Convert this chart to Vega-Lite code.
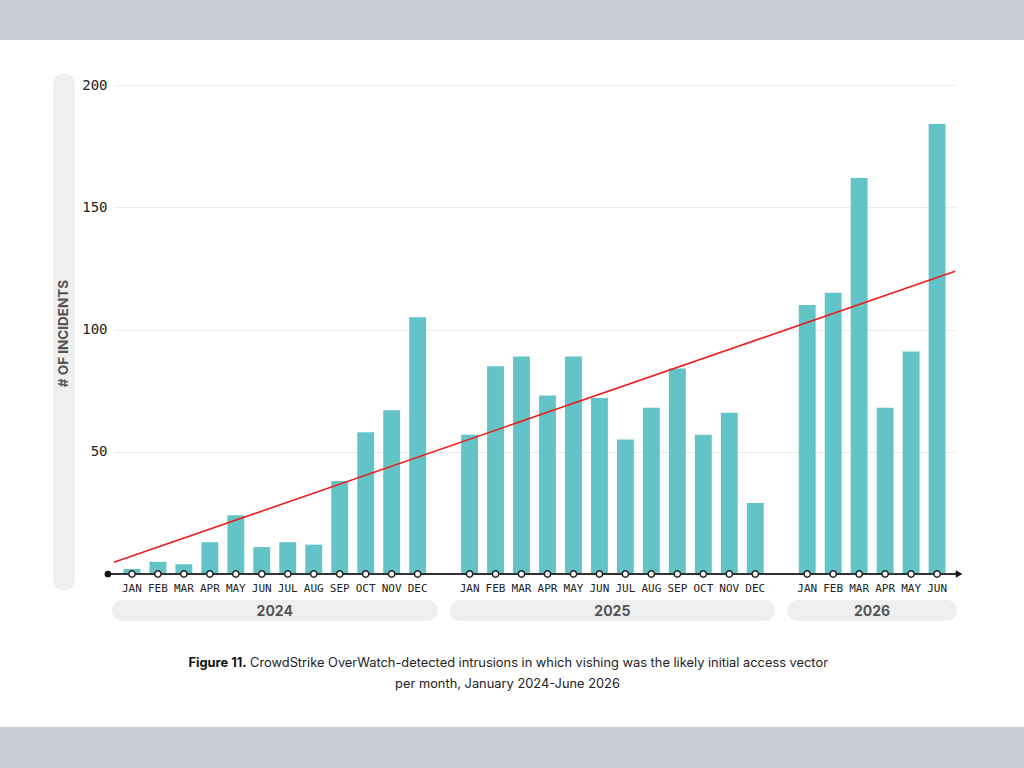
{
  "$schema": "https://vega.github.io/schema/vega-lite/v6.json",
  "width": 1024,
  "height": 687,
  "autosize": {"type": "none"},
  "padding": {"top": 40, "bottom": 41, "left": 0, "right": 0},
  "background": "#c8cdd5",
  "config": {
    "view": {"fill": "white", "stroke": null},
    "text": {"font": "Inter"}
  },
  "datasets": {
    "monthly": [
      {"period": "2024-JAN", "year": "2024", "month": "JAN", "count": 2},
      {"period": "2024-FEB", "year": "2024", "month": "FEB", "count": 5},
      {"period": "2024-MAR", "year": "2024", "month": "MAR", "count": 4},
      {"period": "2024-APR", "year": "2024", "month": "APR", "count": 13},
      {"period": "2024-MAY", "year": "2024", "month": "MAY", "count": 24},
      {"period": "2024-JUN", "year": "2024", "month": "JUN", "count": 11},
      {"period": "2024-JUL", "year": "2024", "month": "JUL", "count": 13},
      {"period": "2024-AUG", "year": "2024", "month": "AUG", "count": 12},
      {"period": "2024-SEP", "year": "2024", "month": "SEP", "count": 38},
      {"period": "2024-OCT", "year": "2024", "month": "OCT", "count": 58},
      {"period": "2024-NOV", "year": "2024", "month": "NOV", "count": 67},
      {"period": "2024-DEC", "year": "2024", "month": "DEC", "count": 105},
      {"period": "2025-JAN", "year": "2025", "month": "JAN", "count": 57},
      {"period": "2025-FEB", "year": "2025", "month": "FEB", "count": 85},
      {"period": "2025-MAR", "year": "2025", "month": "MAR", "count": 89},
      {"period": "2025-APR", "year": "2025", "month": "APR", "count": 73},
      {"period": "2025-MAY", "year": "2025", "month": "MAY", "count": 89},
      {"period": "2025-JUN", "year": "2025", "month": "JUN", "count": 72},
      {"period": "2025-JUL", "year": "2025", "month": "JUL", "count": 55},
      {"period": "2025-AUG", "year": "2025", "month": "AUG", "count": 68},
      {"period": "2025-SEP", "year": "2025", "month": "SEP", "count": 84},
      {"period": "2025-OCT", "year": "2025", "month": "OCT", "count": 57},
      {"period": "2025-NOV", "year": "2025", "month": "NOV", "count": 66},
      {"period": "2025-DEC", "year": "2025", "month": "DEC", "count": 29},
      {"period": "2026-JAN", "year": "2026", "month": "JAN", "count": 110},
      {"period": "2026-FEB", "year": "2026", "month": "FEB", "count": 115},
      {"period": "2026-MAR", "year": "2026", "month": "MAR", "count": 162},
      {"period": "2026-APR", "year": "2026", "month": "APR", "count": 68},
      {"period": "2026-MAY", "year": "2026", "month": "MAY", "count": 91},
      {"period": "2026-JUN", "year": "2026", "month": "JUN", "count": 184}
    ],
    "years": [
      {"year": "2024", "first": "2024-JAN", "last": "2024-DEC", "middle": "2024-JUN"},
      {"year": "2025", "first": "2025-JAN", "last": "2025-DEC", "middle": "2025-JUN"},
      {"year": "2026", "first": "2026-JAN", "last": "2026-JUN", "middle": "2026-MAR"}
    ],
    "trend": [
      {"from": "2024-JAN", "to": "2026-JUN", "start": 4.8, "end": 123.8}
    ]
  },
  "layer": [
    {
      "data": {"name": "years"},
      "mark": {"type": "rect", "fill": "#efefef", "cornerRadius": 10.5, "xOffset": -20, "x2Offset": 20, "yOffset": 26, "y2Offset": 47},
      "encoding": {
        "x": {"field": "first", "type": "ordinal", "bandPosition": 0.5},
        "x2": {"field": "last", "bandPosition": 0.5},
        "y": {"datum": 0, "type": "quantitative"},
        "y2": {"datum": 0}
      }
    },
    {
      "data": {"name": "years"},
      "mark": {"type": "text", "font": "Inter", "fontWeight": "bold", "fontSize": 14, "color": "#555555", "baseline": "middle", "align": "center", "xOffset": 4.5, "yOffset": 38},
      "encoding": {
        "x": {"field": "middle", "type": "ordinal", "bandPosition": 1},
        "y": {"datum": 0, "type": "quantitative"},
        "text": {"field": "year"}
      }
    },
    {
      "data": {"values": [{}]},
      "mark": {"type": "bar", "fill": "#efefef", "cornerRadius": 11, "width": 22, "xOffset": -68, "yOffset": -12, "y2Offset": 17},
      "encoding": {
        "x": {"datum": "2024-JAN", "type": "ordinal"},
        "y": {"datum": 200, "type": "quantitative"},
        "y2": {"datum": 0}
      }
    },
    {
      "data": {"values": [{}]},
      "mark": {"type": "text", "text": "# OF INCIDENTS", "angle": 270, "font": "Inter", "fontWeight": "bold", "fontSize": 13.5, "color": "#555555", "align": "center", "baseline": "middle", "xOffset": -68, "yOffset": 4},
      "encoding": {
        "x": {"datum": "2024-JAN", "type": "ordinal"},
        "y": {"datum": 100, "type": "quantitative"}
      }
    },
    {
      "data": {"name": "monthly"},
      "mark": {"type": "bar", "color": "#63c4c8"},
      "encoding": {
        "x": {
          "field": "period",
          "type": "ordinal",
          "scale": {
            "domain": [
              "2024-JAN", "2024-FEB", "2024-MAR", "2024-APR", "2024-MAY", "2024-JUN",
              "2024-JUL", "2024-AUG", "2024-SEP", "2024-OCT", "2024-NOV", "2024-DEC",
              "gap1",
              "2025-JAN", "2025-FEB", "2025-MAR", "2025-APR", "2025-MAY", "2025-JUN",
              "2025-JUL", "2025-AUG", "2025-SEP", "2025-OCT", "2025-NOV", "2025-DEC",
              "gap2",
              "2026-JAN", "2026-FEB", "2026-MAR", "2026-APR", "2026-MAY", "2026-JUN"
            ],
            "range": [114, 955],
            "paddingInner": 0.35,
            "paddingOuter": 0.365
          },
          "axis": {
            "orient": "bottom",
            "offset": -153,
            "bandPosition": 0.5,
            "domain": false,
            "ticks": false,
            "grid": false,
            "title": null,
            "labelAngle": 0,
            "labelAlign": "center",
            "labelPadding": 14,
            "labelOverlap": false,
            "labelFont": "DejaVu Sans Mono",
            "labelFontSize": 11,
            "labelColor": "#222222",
            "labelExpr": "indexof(datum.value, '-') > 0 ? substring(datum.value, 5) : ''"
          }
        },
        "y": {
          "field": "count",
          "type": "quantitative",
          "scale": {"domain": [0, 200], "range": [534, 45], "nice": false},
          "axis": {
            "values": [50, 100, 150, 200],
            "offset": -110,
            "domain": false,
            "ticks": false,
            "grid": true,
            "title": null,
            "labelPadding": 3,
            "labelFont": "DejaVu Sans Mono",
            "labelFontSize": 14,
            "labelColor": "#222222",
            "gridColor": "#ebebeb",
            "gridWidth": 1
          }
        }
      }
    },
    {
      "data": {"name": "trend"},
      "mark": {"type": "rule", "color": "#ee1c1c", "strokeWidth": 1.6, "xOffset": -18, "x2Offset": 18},
      "encoding": {
        "x": {"field": "from", "type": "ordinal", "bandPosition": 0.5},
        "x2": {"field": "to", "bandPosition": 0.5},
        "y": {"field": "start", "type": "quantitative"},
        "y2": {"field": "end"}
      }
    },
    {
      "data": {"values": [{}]},
      "mark": {"type": "rule", "color": "#333333", "strokeWidth": 2, "xOffset": -24, "x2Offset": 22},
      "encoding": {
        "x": {"datum": "2024-JAN", "type": "ordinal", "bandPosition": 0.5},
        "x2": {"datum": "2026-JUN", "bandPosition": 0.5},
        "y": {"datum": 0, "type": "quantitative"}
      }
    },
    {
      "data": {"name": "monthly"},
      "mark": {"type": "point", "filled": true, "fill": "white", "stroke": "#222222", "strokeWidth": 1.5, "size": 40, "opacity": 1},
      "encoding": {
        "x": {"field": "period", "type": "ordinal"},
        "y": {"datum": 0, "type": "quantitative"}
      }
    },
    {
      "data": {"values": [{}]},
      "mark": {"type": "point", "filled": true, "color": "#111111", "size": 45, "opacity": 1, "xOffset": -24},
      "encoding": {
        "x": {"datum": "2024-JAN", "type": "ordinal"},
        "y": {"datum": 0, "type": "quantitative"}
      }
    },
    {
      "data": {"values": [{}]},
      "mark": {"type": "point", "shape": "triangle-right", "filled": true, "color": "#111111", "size": 60, "opacity": 1, "xOffset": 22},
      "encoding": {
        "x": {"datum": "2026-JUN", "type": "ordinal"},
        "y": {"datum": 0, "type": "quantitative"}
      }
    },
    {
      "data": {"values": [{}]},
      "mark": {"type": "text", "text": "Figure 11.", "font": "Inter", "fontWeight": "bold", "fontSize": 12.85, "color": "#111111", "align": "right", "baseline": "middle", "dx": -275, "dy": 89},
      "encoding": {
        "x": {"datum": "2025-MAR", "type": "ordinal"},
        "y": {"datum": 0, "type": "quantitative"}
      }
    },
    {
      "data": {"values": [{}]},
      "mark": {"type": "text", "text": "CrowdStrike OverWatch-detected intrusions in which vishing was the likely initial access vector", "font": "Inter", "fontSize": 12.85, "color": "#222222", "align": "left", "baseline": "middle", "dx": -271.5, "dy": 89},
      "encoding": {
        "x": {"datum": "2025-MAR", "type": "ordinal"},
        "y": {"datum": 0, "type": "quantitative"}
      }
    },
    {
      "data": {"values": [{}]},
      "mark": {"type": "text", "text": "per month, January 2024-June 2026", "font": "Inter", "fontSize": 12.85, "color": "#222222", "align": "center", "baseline": "middle", "dx": -14, "dy": 110},
      "encoding": {
        "x": {"datum": "2025-MAR", "type": "ordinal"},
        "y": {"datum": 0, "type": "quantitative"}
      }
    }
  ]
}
